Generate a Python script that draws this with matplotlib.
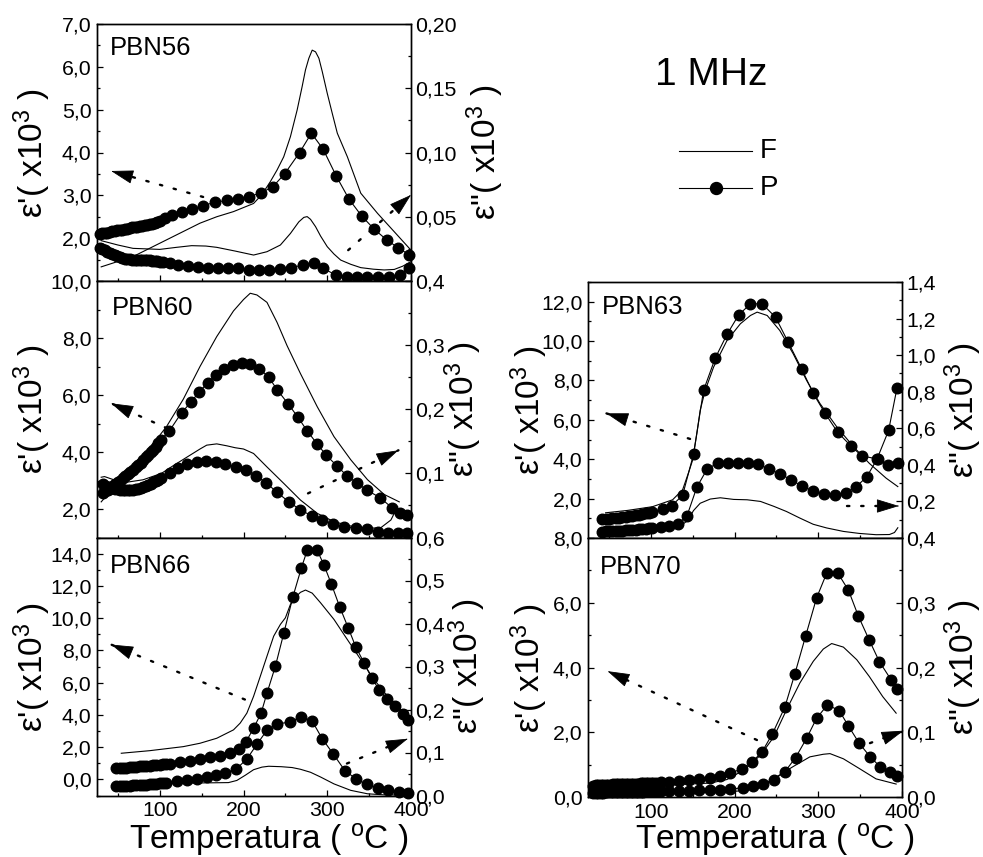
import matplotlib
matplotlib.use("Agg")
import matplotlib.pyplot as plt
from matplotlib.ticker import FixedLocator, FuncFormatter
from matplotlib.lines import Line2D

plt.rcParams['font.family'] = ['Liberation Sans', 'DejaVu Sans']
plt.rcParams['mathtext.fontset'] = 'custom'
plt.rcParams['mathtext.rm'] = 'Liberation Sans'
plt.rcParams['mathtext.it'] = 'Liberation Sans:italic'
plt.rcParams['mathtext.default'] = 'rm'

# ---------------- data (temperature in degC, permittivity x10^3) ----------------
# PBN56
t56_f1 = [30, 68, 108, 148, 168, 188, 212, 222, 232, 240, 248, 256, 264, 270, 274, 278, 282, 286, 290, 294,
          300, 306, 312, 324, 340, 360, 380, 400]
e56_f1 = [1.33, 1.57, 1.96, 2.35, 2.50, 2.62, 2.81, 3.02, 3.32, 3.59, 3.90, 4.37, 4.99, 5.54, 5.93, 6.20, 6.39,
          6.35, 6.20, 5.89, 5.38, 4.91, 4.45, 3.90, 3.05, 2.58, 2.15, 1.72]
t56_f2 = [30, 50, 68, 100, 120, 138, 155, 168, 190, 212, 228, 244, 256, 266, 272, 276, 280, 286, 292, 300,
          308, 316, 328, 340, 355, 368, 380, 390, 400]
e56_f2 = [0.0314, 0.0280, 0.0254, 0.0246, 0.0262, 0.0275, 0.0272, 0.0262, 0.0233, 0.0202, 0.0228, 0.0280,
          0.0370, 0.0460, 0.0495, 0.0501, 0.0480, 0.0423, 0.0350, 0.0267, 0.0210, 0.0163, 0.0130, 0.0104,
          0.0092, 0.0086, 0.0090, 0.0115, 0.0150]
t56_p1 = [28, 31, 34, 37, 40, 43, 46, 49, 52, 55, 58, 61, 64, 67, 70, 73, 76, 79, 82, 85, 88, 91, 94, 97, 100,
          106, 114, 126, 138, 152, 166, 180, 193, 207, 221, 235, 249, 267, 281, 295, 311, 326, 341, 356, 371,
          385, 398]
e56_p1 = [2.10, 2.11, 2.12, 2.13, 2.15, 2.16, 2.17, 2.18, 2.19, 2.20, 2.21, 2.22, 2.24, 2.25, 2.26, 2.27, 2.28,
          2.29, 2.30, 2.31, 2.33, 2.34, 2.36, 2.38, 2.40,
          2.47, 2.53, 2.60, 2.68, 2.76, 2.84, 2.88, 2.91, 2.97, 3.06, 3.20, 3.50, 4.00, 4.45, 4.08, 3.44, 2.91,
          2.52, 2.21, 1.96, 1.77, 1.61]
t56_p2 = [28, 31, 34, 37, 40, 43, 46, 49, 52, 55, 58, 61, 64, 67, 70, 73, 76, 79, 82, 85, 88, 91, 94, 97, 100,
          104, 112, 122, 134, 146, 158, 170, 182, 193, 206, 218, 230, 243, 257, 271, 284, 295, 310, 323, 336,
          348, 361, 374, 387, 398]
e56_p2 = [0.0254, 0.0248, 0.0238, 0.0228, 0.0218, 0.0208, 0.0200, 0.0192, 0.0185, 0.0180, 0.0175, 0.0171,
          0.0168, 0.0166, 0.0165, 0.0165, 0.0164, 0.0164, 0.0163, 0.0162, 0.0160, 0.0158, 0.0156, 0.0154, 0.0151,
          0.0148, 0.0140, 0.0128, 0.0120, 0.0111, 0.0104, 0.0103, 0.0100, 0.0098, 0.0088, 0.0083, 0.0082,
          0.0091, 0.0104, 0.0125, 0.0137, 0.0099, 0.0047, 0.0034, 0.0029, 0.0029, 0.0029, 0.0034, 0.0047, 0.0099]

# PBN60
t60_f1 = [30, 48, 68, 88, 108, 128, 148, 168, 188, 200, 208, 216, 228, 240, 252, 268, 288, 308, 328, 348, 368, 386]
e60_f1 = [2.25, 2.86, 3.50, 4.14, 4.89, 5.85, 7.00, 8.05, 8.95, 9.35, 9.57, 9.51, 9.25, 8.55, 7.73, 6.75, 5.59,
          4.54, 3.73, 3.03, 2.51, 2.25]
t60_f2 = [30, 34, 46, 62, 80, 102, 116, 132, 148, 156, 168, 180, 190, 200, 212, 228, 248, 268, 288, 308, 328,
          348, 364, 376, 384]
e60_f2 = [0.094, 0.095, 0.0896, 0.0865, 0.090, 0.100, 0.112, 0.125, 0.138, 0.144, 0.146, 0.143, 0.140, 0.138,
          0.131, 0.110, 0.0844, 0.0584, 0.0377, 0.0247, 0.0179, 0.0143, 0.0153, 0.0273, 0.0481]
t60_p1 = [32, 35, 38, 41, 44, 47, 50, 53, 56, 59, 62, 65, 68, 71, 74, 77, 80, 83, 86, 89, 92, 95, 98,
          101, 111, 126, 137, 147, 157, 167, 177, 187, 198, 208, 219, 230, 240, 253, 265, 276, 288, 299, 312,
          324, 336, 348, 363, 377, 387, 395]
e60_p1 = [2.55, 2.62, 2.68, 2.74, 2.80, 2.86, 2.93, 3.00, 3.08, 3.15, 3.22, 3.30, 3.38, 3.46, 3.55, 3.63, 3.72,
          3.81, 3.90, 3.99, 4.08, 4.18, 4.30,
          4.43, 4.72, 5.38, 5.74, 6.11, 6.42, 6.71, 6.92, 7.07, 7.13, 7.10, 6.92, 6.63, 6.19, 5.70, 5.22, 4.74,
          4.28, 3.88, 3.50, 3.15, 2.90, 2.65, 2.40, 2.05, 1.87, 1.79]
t60_p2 = [32, 35, 38, 41, 44, 47, 50, 53, 56, 59, 62, 65, 68, 71, 74, 77, 80, 83, 86, 89, 92, 95, 98,
          102, 112, 122, 132, 144, 155, 167, 178, 191, 203, 215, 227, 240, 254, 268, 282, 294, 307, 320, 334,
          347, 360, 373, 385, 395]
e60_p2 = [0.083, 0.081, 0.079, 0.078, 0.077, 0.076, 0.075, 0.0745, 0.074, 0.074, 0.074, 0.074, 0.0745, 0.075,
          0.076, 0.077, 0.078, 0.080, 0.082, 0.084, 0.086, 0.088, 0.090,
          0.093, 0.101, 0.108, 0.114, 0.117, 0.119, 0.118, 0.115, 0.110, 0.106, 0.096, 0.0855, 0.0704, 0.0558,
          0.0429, 0.0335, 0.0273, 0.0210, 0.0169, 0.0143, 0.0127, 0.0091, 0.0075, 0.0065, 0.0065]

# PBN66
t66_f1 = [54, 88, 128, 148, 168, 188, 196, 204, 212, 220, 228, 236, 244, 250, 256, 262, 268, 274, 282, 292,
          308, 324, 340, 356, 372, 388, 398]
e66_f1 = [1.62, 1.78, 2.03, 2.24, 2.55, 3.07, 3.49, 4.11, 5.15, 6.39, 7.64, 8.88, 9.61, 10.02, 10.85, 11.30,
          11.60, 11.74, 11.55, 10.95, 9.92, 8.67, 7.43, 6.18, 5.15, 4.32, 3.80]
t66_f2 = [54, 100, 140, 182, 192, 202, 212, 222, 230, 245, 258, 268, 280, 292, 308, 328, 348, 368, 398]
e66_f2 = [0.027, 0.028, 0.029, 0.030, 0.035, 0.047, 0.060, 0.066, 0.068, 0.067, 0.065, 0.061, 0.054, 0.043,
          0.027, 0.012, 0.004, 0.0015, 0.001]
t66_p1 = [48, 52, 56, 60, 64, 68, 72, 76, 80, 84, 88, 92, 96, 100, 104, 108,
          112, 124, 136, 148, 160, 172, 184, 194, 203, 212, 221, 228, 238, 248, 259, 269, 276, 288, 296, 305,
          315, 325, 334, 344, 353, 362, 371, 381, 390, 397]
e66_p1 = [0.68, 0.70, 0.71, 0.73, 0.75, 0.77, 0.79, 0.80, 0.82, 0.84, 0.86, 0.88, 0.90, 0.92, 0.94, 0.96,
          0.98, 1.05, 1.13, 1.26, 1.36, 1.48, 1.65, 1.90, 2.34, 3.17, 4.11, 5.35, 7.01, 9.05, 11.33, 13.1, 14.2,
          14.2, 13.3, 12.10, 10.68, 9.40, 8.22, 7.22, 6.29, 5.56, 4.98, 4.52, 4.07, 3.69]
t66_p2 = [48, 52, 56, 60, 64, 68, 72, 76, 80, 84, 88, 92, 96, 100, 104, 108,
          120, 132, 144, 156, 167, 178, 191, 204, 216, 228, 240, 255, 269, 282, 294, 307, 321, 334, 347, 360,
          373, 386, 397]
e66_p2 = [0.021, 0.0215, 0.022, 0.0225, 0.023, 0.0235, 0.024, 0.0245, 0.025, 0.0255, 0.026, 0.027, 0.0275,
          0.028, 0.029, 0.030,
          0.033, 0.036, 0.039, 0.043, 0.047, 0.053, 0.061, 0.085, 0.119, 0.152, 0.166, 0.171, 0.183, 0.173,
          0.132, 0.097, 0.058, 0.039, 0.026, 0.017, 0.012, 0.008, 0.006]

# PBN63
t63_f1 = [46, 72, 102, 126, 138, 145, 150, 155, 159, 165, 175, 191, 207, 219, 227, 239, 254, 270, 286, 302,
          322, 342, 361, 381, 395]
e63_f1 = [1.28, 1.40, 1.59, 1.94, 2.45, 3.31, 3.96, 5.31, 6.49, 7.50, 8.68, 10.03, 10.88, 11.30, 11.47, 11.30,
          10.54, 9.36, 8.01, 6.83, 5.65, 4.64, 3.79, 3.04, 2.61]
t63_f2 = [42, 80, 112, 132, 144, 151, 159, 171, 183, 199, 215, 231, 247, 262, 278, 294, 310, 330, 349, 369,
          385, 391, 395]
e63_f2 = [0.029, 0.033, 0.040, 0.055, 0.095, 0.150, 0.190, 0.213, 0.220, 0.211, 0.209, 0.200, 0.173, 0.145,
          0.109, 0.075, 0.055, 0.036, 0.025, 0.018, 0.019, 0.030, 0.056]
t63_p1 = [42, 46, 50, 54, 58, 62, 66, 70, 74, 78, 82, 86, 90, 94, 98, 102,
          114, 125, 138, 151, 163, 177, 191, 205, 219, 233, 249, 264, 280, 294, 308, 323, 339, 352, 371, 383, 395]
e63_p1 = [0.94, 0.96, 0.98, 1.00, 1.02, 1.04, 1.06, 1.08, 1.10, 1.13, 1.16, 1.19, 1.22, 1.25, 1.29, 1.33,
          1.48, 1.64, 2.17, 4.25, 7.50, 9.14, 10.34, 11.33, 11.89, 11.89, 11.21, 9.95, 8.60, 7.34, 6.34, 5.38,
          4.67, 4.17, 4.01, 3.71, 3.81]
t63_p2 = [42, 46, 50, 54, 58, 62, 66, 70, 74, 78, 82, 86, 90, 94, 98, 102,
          112, 122, 132, 143, 155, 167, 180, 192, 204, 216, 228, 241, 254, 268, 281, 294, 307, 320, 333, 345,
          358, 370, 384, 394]
e63_p2 = [0.035, 0.036, 0.037, 0.038, 0.039, 0.040, 0.041, 0.042, 0.043, 0.044, 0.046, 0.047, 0.049, 0.050,
          0.052, 0.054,
          0.058, 0.065, 0.078, 0.118, 0.278, 0.375, 0.411, 0.409, 0.409, 0.409, 0.404, 0.378, 0.351, 0.318,
          0.282, 0.258, 0.242, 0.236, 0.247, 0.279, 0.335, 0.430, 0.588, 0.820]

# PBN70
t70_f1 = [31, 112, 171, 191, 211, 231, 247, 262, 278, 294, 306, 316, 330, 346, 361, 377, 393]
e70_f1 = [0.31, 0.36, 0.43, 0.54, 0.83, 1.29, 1.86, 2.69, 3.52, 4.19, 4.57, 4.74, 4.63, 4.24, 3.72, 3.10, 2.59]
t70_f2 = [31, 151, 203, 235, 250, 270, 290, 306, 314, 330, 349, 369, 393]
e70_f2 = [0.005, 0.006, 0.009, 0.018, 0.031, 0.047, 0.062, 0.066, 0.067, 0.059, 0.044, 0.028, 0.020]
t70_p1 = [31, 34, 37, 40, 43, 46, 49, 52, 55, 58, 61, 64, 67, 70, 73, 76, 79, 82, 85, 88, 91, 94, 97, 100,
          103, 106,
          112, 122, 134, 146, 158, 171, 183, 195, 209, 221, 233, 245, 260, 272, 285, 298, 310, 323, 336, 348,
          361, 373, 387, 394]
e70_p1 = [0.35, 0.36, 0.36, 0.37, 0.37, 0.38, 0.38, 0.38, 0.39, 0.39, 0.39, 0.39, 0.40, 0.40, 0.40, 0.41, 0.41,
          0.41, 0.41, 0.42, 0.42, 0.42, 0.42, 0.43, 0.43, 0.44,
          0.45, 0.47, 0.50, 0.53, 0.56, 0.59, 0.64, 0.73, 0.88, 1.08, 1.40, 1.94, 2.77, 3.80, 4.98, 6.15, 6.91,
          6.93, 6.39, 5.58, 4.84, 4.18, 3.62, 3.35]
t70_p2 = [31, 34, 37, 40, 43, 46, 49, 52, 55, 58, 61, 64, 67, 70, 73, 76, 79, 82, 85, 88, 91, 94, 97, 100,
          103, 106,
          112, 122, 134, 146, 158, 171, 183, 195, 210, 222, 234, 247, 260, 273, 286, 298, 311, 325, 336, 349,
          362, 374, 386, 394]
e70_p2 = [0.0065, 0.0066, 0.0067, 0.0068, 0.0069, 0.0070, 0.0071, 0.0072, 0.0073, 0.0074, 0.0075, 0.0076,
          0.0077, 0.0078, 0.0079, 0.0080, 0.0081, 0.0082, 0.0083, 0.0084, 0.0084, 0.0085, 0.0085, 0.0086,
          0.0086, 0.0087,
          0.0088, 0.0092, 0.0096, 0.0100, 0.0105, 0.0110, 0.0115, 0.0125, 0.0140, 0.0166, 0.0207, 0.0269,
          0.0388, 0.0610, 0.0905, 0.1216, 0.1423, 0.1335, 0.1097, 0.0828, 0.0621, 0.0466, 0.0388, 0.0321]

x_ticks = [100, 200, 300, 400]
x_minor = [50, 150, 250, 350]

# ---------------- figure ----------------
W, H = 983, 857
fig = plt.figure(figsize=(W / 100, H / 100), dpi=100)

TICK_FS = 15.3
LABEL_FS = 24
XLABEL_FS = 24
LW_CURVE = 0.8
MS = 7.6
LBL_E1 = r"ε'( x10$^{3}$ )"
LBL_E2 = r'ε"( x10$^{3}$ )'
LBL_T = r'Temperatura ( $^{\rm o}$C )'


def rect(left, top, w, h):
    return [left / W, 1 - (top + h) / H, w / W, h / H]


def comma(decimals, hide=()):
    def f(v, pos):
        for hv in hide:
            if abs(v - hv) < 1e-9:
                return ''
        return f'{v:.{decimals}f}'.replace('.', ',')
    return FuncFormatter(f)


def style_axis(ax):
    for sp in ax.spines.values():
        sp.set_linewidth(1.0)
    ax.tick_params(which='both', direction='in', width=0.9, labelsize=TICK_FS)
    ax.tick_params(which='major', length=4.5)
    ax.tick_params(which='minor', length=2.5)


def arrow(ax, tail, head):
    # dotted shaft
    ax.plot([tail[0], head[0]], [tail[1], head[1]], transform=ax.transAxes, color='k', lw=1.7,
            linestyle=(0, (1, 5)), dash_capstyle='round', clip_on=False)
    # solid head
    dx, dy = head[0] - tail[0], head[1] - tail[1]
    back = (head[0] - 0.02 * dx, head[1] - 0.02 * dy)
    ax.annotate('', xy=head, xytext=back, xycoords='axes fraction', textcoords='axes fraction',
                annotation_clip=False,
                arrowprops=dict(arrowstyle='-|>,head_length=0.85,head_width=0.26', color='k', lw=0.6,
                                shrinkA=0, shrinkB=0, mutation_scale=17))


def panel(r, name, name_pos, f1, p1, f2, p2, yl1, yt1, ym1, dec1, hide1, yl2, yt2, ym2, dec2, hide2,
          bottom, lab1_x, lab2_x, xlab, arrows):
    ax = fig.add_axes(r)
    ax2 = ax.twinx()
    ax.set_xlim(25, 400)
    ax.set_ylim(*yl1)
    ax2.set_ylim(*yl2)

    ax.plot(f1[0], f1[1], color='k', lw=LW_CURVE)
    ax.plot(p1[0], p1[1], color='k', lw=LW_CURVE, marker='o', ms=MS, mfc='k', mec='k', clip_on=False)
    ax2.plot(f2[0], f2[1], color='k', lw=LW_CURVE)
    ax2.plot(p2[0], p2[1], color='k', lw=LW_CURVE, marker='o', ms=MS, mfc='k', mec='k', clip_on=False)

    ax.xaxis.set_major_locator(FixedLocator(x_ticks))
    ax.xaxis.set_minor_locator(FixedLocator(x_minor))
    ax.yaxis.set_major_locator(FixedLocator(yt1))
    ax.yaxis.set_minor_locator(FixedLocator(ym1))
    ax.yaxis.set_major_formatter(comma(dec1, hide1))
    ax2.yaxis.set_major_locator(FixedLocator(yt2))
    ax2.yaxis.set_minor_locator(FixedLocator(ym2))
    ax2.yaxis.set_major_formatter(comma(dec2, hide2))
    style_axis(ax)
    style_axis(ax2)
    ax.tick_params(axis='y', pad=4)
    ax2.tick_params(axis='y', pad=3)
    ax.tick_params(axis='x', pad=4)
    if not bottom:
        ax.tick_params(axis='x', labelbottom=False)
    else:
        ax.set_xlabel(LBL_T, fontsize=XLABEL_FS, va='baseline')
        ax.xaxis.set_label_coords(xlab[0], xlab[1])

    ax.set_ylabel(LBL_E1, fontsize=LABEL_FS, va='center')
    ax.yaxis.set_label_coords(lab1_x, 0.5)
    ax2.set_ylabel(LBL_E2, fontsize=LABEL_FS, rotation=90)
    ax2.yaxis.label.set_va('center')
    ax2.yaxis.set_label_coords(lab2_x, 0.5)

    ax.text(name_pos[0], name_pos[1], name, transform=ax.transAxes, fontsize=18.5, ha='left', va='center')
    for tail, head in arrows:
        arrow(ax2, tail, head)
    return ax, ax2


odd = lambda a, b: list(range(a, b + 1, 2))

panel(rect(97, 24, 314, 257), 'PBN56', (0.041, 0.905),
      (t56_f1, e56_f1), (t56_p1, e56_p1), (t56_f2, e56_f2), (t56_p2, e56_p2),
      (1, 7), [1, 2, 3, 4, 5, 6, 7], [1.5, 2.5, 3.5, 4.5, 5.5, 6.5], 1, (1,),
      (0, 0.20), [0, 0.05, 0.10, 0.15, 0.20], [0.025, 0.075, 0.125, 0.175], 2, (0,),
      False, -0.205, 1.236, None,
      [((0.338, 0.327), (0.045, 0.428)), ((0.80, 0.12), (1.0, 0.335))])

panel(rect(97, 281, 314, 256.5), 'PBN60', (0.048, 0.894),
      (t60_f1, e60_f1), (t60_p1, e60_p1), (t60_f2, e60_f2), (t60_p2, e60_p2),
      (1, 10), [2, 4, 6, 8, 10], odd(1, 9), 1, (),
      (0, 0.4), [0, 0.1, 0.2, 0.3, 0.4], [0.05, 0.15, 0.25, 0.35], 1, (0,),
      False, -0.205, 1.166, None,
      [((0.223, 0.426), (0.045, 0.523)), ((0.672, 0.172), (0.96, 0.34))])

panel(rect(97, 537.5, 314, 258), 'PBN66', (0.041, 0.891),
      (t66_f1, e66_f1), (t66_p1, e66_p1), (t66_f2, e66_f2), (t66_p2, e66_p2),
      (-1, 15), [0, 2, 4, 6, 8, 10, 12, 14], odd(-1, 15), 1, (),
      (0, 0.6), [0, 0.1, 0.2, 0.3, 0.4, 0.5, 0.6], [0.05, 0.15, 0.25, 0.35, 0.45, 0.55], 1, (),
      True, -0.205, 1.18, (0.548, -0.204),
      [((0.471, 0.372), (0.045, 0.585)), ((0.796, 0.124), (0.99, 0.22))])

panel(rect(588, 282, 314, 256), 'PBN63', (0.045, 0.902),
      (t63_f1, e63_f1), (t63_p1, e63_p1), (t63_f2, e63_f2), (t63_p2, e63_p2),
      (0, 13), [0, 2, 4, 6, 8, 10, 12], odd(1, 13), 1, (0,),
      (0, 1.4), [0, 0.2, 0.4, 0.6, 0.8, 1.0, 1.2, 1.4], [0.1, 0.3, 0.5, 0.7, 0.9, 1.1, 1.3], 1, (0,),
      False, -0.188, 1.195, None,
      [((0.325, 0.387), (0.058, 0.487)), ((0.825, 0.125), (0.99, 0.125))])

panel(rect(588, 538, 314, 259), 'PBN70', (0.038, 0.888),
      (t70_f1, e70_f1), (t70_p1, e70_p1), (t70_f2, e70_f2), (t70_p2, e70_p2),
      (0, 8), [0, 2, 4, 6, 8], odd(1, 7), 1, (),
      (0, 0.4), [0, 0.1, 0.2, 0.3, 0.4], [0.05, 0.15, 0.25, 0.35], 1, (),
      True, -0.188, 1.195, (0.596, -0.199),
      [((0.538, 0.22), (0.062, 0.486)), ((0.898, 0.208), (1.005, 0.256))])

# frequency note and legend
fig.text(711 / W, 1 - 75 / H, '1 MHz', fontsize=28, ha='center', va='center')
fig.add_artist(Line2D([679 / W, 752 / W], [1 - 151 / H] * 2, color='k', lw=LW_CURVE))
fig.add_artist(Line2D([679 / W, 752 / W], [1 - 188 / H] * 2, color='k', lw=LW_CURVE))
fig.add_artist(Line2D([716 / W], [1 - 188 / H], color='k', marker='o', ms=MS + 1, mfc='k', mec='k', lw=0))
fig.text(760 / W, 1 - 151 / H, 'F', fontsize=20, ha='left', va='center')
fig.text(760 / W, 1 - 188 / H, 'P', fontsize=20, ha='left', va='center')

fig.savefig('out.png', dpi=100)
